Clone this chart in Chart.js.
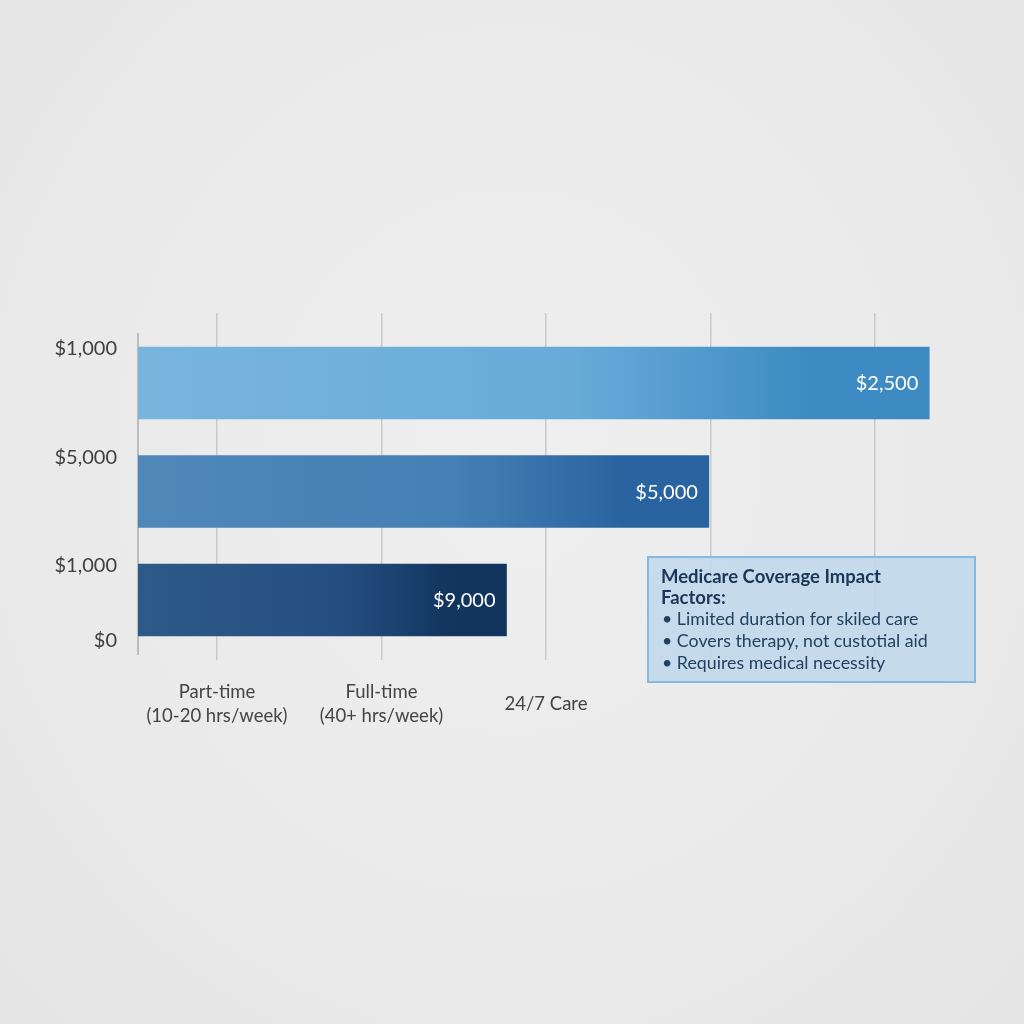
<!DOCTYPE html>
<html>
<head>
<meta charset="utf-8">
<script src="https://cdn.jsdelivr.net/npm/chart.js@4.4.1/dist/chart.umd.min.js"></script>
<style>
  html, body { margin: 0; padding: 0; background: #ebebeb; }
  #wrap { position: relative; width: 1024px; height: 1024px;
          background: radial-gradient(ellipse at 50% 45%, #efefef 0%, #e9e9e9 70%, #e4e4e4 100%); }
  #chart { position: absolute; left: 0; top: 0; }
  #note { position: absolute; left: 647px; top: 556px; width: 301px; height: 105px;
          padding: 8px 12px 10px 12px; background: rgba(190, 216, 236, 0.85);
          border: 2px solid #86b9df; font-family: Lato, "Noto Sans", sans-serif;
          color: #24405f; font-size: 17.8px; line-height: 22px; }
  #note .title { font-weight: bold; color: #1c3558; font-size: 18.5px; line-height: 20.5px; }
  #note .item { padding-left: 1px; white-space: nowrap; }
</style>
</head>
<body>
<div id="wrap">
  <canvas id="chart" width="1024" height="1024"></canvas>
  <div id="note">
    <div class="title">Medicare Coverage Impact<br>Factors:</div>
    <div class="item">• Limited duration for skiled care</div>
    <div class="item">• Covers therapy, not custotial aid</div>
    <div class="item">• Requires medical necessity</div>
  </div>
</div>
<script>
// bar lengths (grid step = 1 unit)
const barSlots = [0, 1, 2];
const barLengths = [4.81, 3.47, 2.24];
const barLabels = ['$2,500', '$5,000', '$9,000'];
const barColorsStart = ['#79b5dd', '#4f87b9', '#2d5a88'];
const barColorsMid = ['#68abd9', '#4580b4', '#254e80'];
const barColorsEnd = ['#3d8bc2', '#2a64a0', '#12355e'];

// y axis labels and where they sit (in bar-slot units)
const yTickLabels = ['$1,000', '$5,000', '$1,000', '$0'];
const yTickPos = [-0.32, 0.69, 1.68, 2.37];

// x grid positions and their labels
const xGridPos = [0.48, 1.48, 2.48, 3.48, 4.48];
const xTickLabels = [['Part-time', '(10-20 hrs/week)'], ['Full-time', '(40+ hrs/week)'], '24/7 Care', '', ''];

const ctx = document.getElementById('chart').getContext('2d');

const barGradient = (context) => {
    const chart = context.chart;
    const {chartArea, scales} = chart;
    const i = context.dataIndex;
    if (!chartArea || !scales.x) return barColorsStart[i];
    const x0 = scales.x.getPixelForValue(0);
    const x1 = scales.x.getPixelForValue(barLengths[i]);
    const g = chart.ctx.createLinearGradient(x0, 0, x1, 0);
    g.addColorStop(0, barColorsStart[i]);
    g.addColorStop(0.55, barColorsMid[i]);
    g.addColorStop(0.85, barColorsEnd[i]);
    g.addColorStop(1, barColorsEnd[i]);
    return g;
};

const axisLinePlugin = {
    id: 'axisLine',
    beforeDatasetsDraw: (chart) => {
        const {ctx, chartArea, scales} = chart;
        const x = scales.x.getPixelForValue(0);
        ctx.save();
        ctx.strokeStyle = '#bdbdbd';
        ctx.lineWidth = 2;
        ctx.beginPath();
        ctx.moveTo(x, chartArea.top + 20);
        ctx.lineTo(x, chartArea.bottom);
        ctx.stroke();
        ctx.restore();
    }
};

const barValuePlugin = {
    id: 'barValues',
    afterDatasetsDraw: (chart) => {
        const {ctx} = chart;
        const meta = chart.getDatasetMeta(0);
        ctx.save();
        ctx.fillStyle = '#ffffff';
        ctx.font = '20px Lato';
        ctx.textAlign = 'right';
        ctx.textBaseline = 'middle';
        meta.data.forEach((bar, i) => {
            ctx.fillText(barLabels[i], bar.x - 11, bar.y + 1);
        });
        ctx.restore();
    }
};

new Chart(ctx, {
    type: 'bar',
    data: {
        datasets: [{
            data: barSlots.map((s, i) => ({ x: barLengths[i], y: s })),
            backgroundColor: barGradient,
            borderWidth: 0,
            barThickness: 72
        }]
    },
    options: {
        indexAxis: 'y',
        responsive: false,
        animation: false,
        layout: { padding: { top: 313, right: 24, left: 0, bottom: 0 } },
        scales: {
            x: {
                type: 'linear',
                min: 0,
                max: 5.24,
                border: { display: false },
                afterBuildTicks: (scale) => {
                    scale.ticks = xGridPos.map(v => ({ value: v }));
                },
                afterFit: (scale) => { scale.height = 369; },
                grid: {
                    color: '#c9c9c9',
                    lineWidth: 1.5,
                    tickLength: 5,
                    drawTicks: true
                },
                ticks: {
                    autoSkip: false,
                    maxRotation: 0,
                    padding: 32,
                    crossAlign: 'center',
                    color: '#444444',
                    font: { family: 'Lato', size: 18.5, lineHeight: 1.3 },
                    callback: (value, index) => xTickLabels[index]
                }
            },
            y: {
                type: 'linear',
                reverse: true,
                offset: false,
                min: -0.645,
                max: 2.507,
                border: { display: false },
                afterBuildTicks: (scale) => {
                    scale.ticks = yTickPos.map(v => ({ value: v }));
                },
                afterFit: (scale) => { scale.width = 138; },
                grid: { display: false, drawTicks: false, offset: false },
                ticks: {
                    autoSkip: false,
                    padding: 21,
                    color: '#3f3f3f',
                    font: { family: 'Lato', size: 20 },
                    callback: (value, index) => yTickLabels[index]
                }
            }
        },
        plugins: {
            legend: { display: false },
            tooltip: { enabled: false }
        }
    },
    plugins: [axisLinePlugin, barValuePlugin]
});
</script>
</body>
</html>
